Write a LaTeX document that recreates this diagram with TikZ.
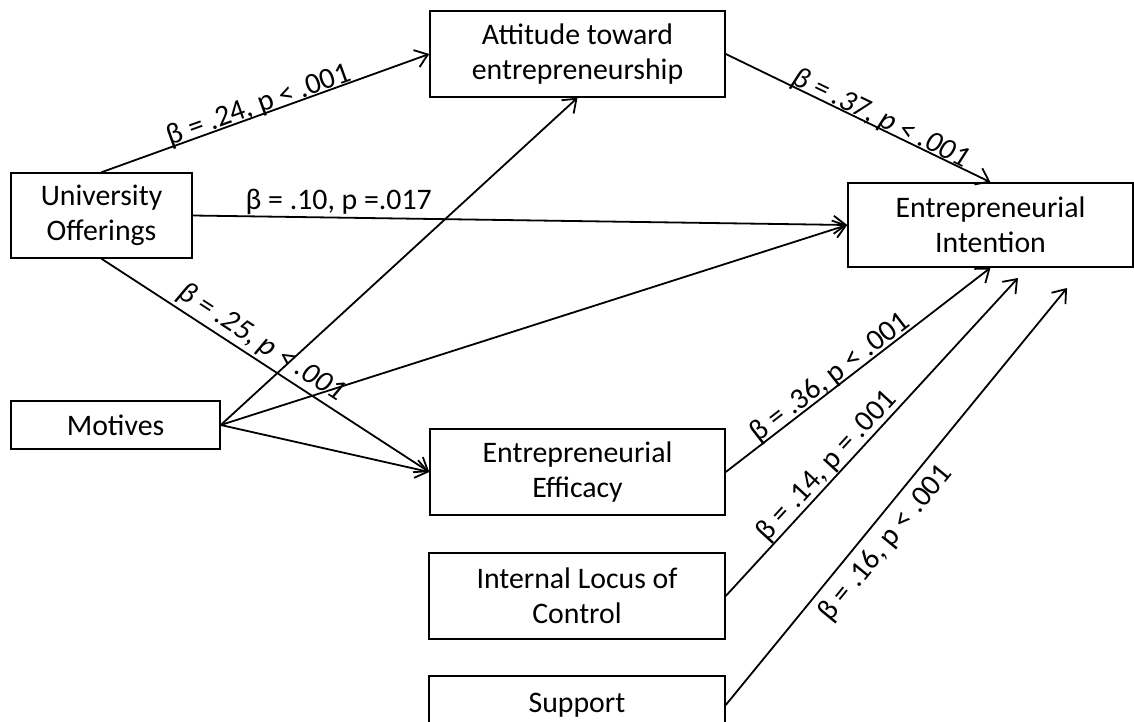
\documentclass[tikz,border=0pt]{standalone}
\usepackage{fontspec}
\setmainfont{Carlito}
\usetikzlibrary{arrows.meta}
\begin{document}
\begin{tikzpicture}[x=0.5pt,y=-0.5pt,
  txt/.style={font=\fontsize{14.9}{17.5}\selectfont},
  box/.style={txt, draw, line width=0.75pt, align=center, inner sep=0pt},
  conn/.style={line width=0.9pt, -{Straight Barb[length=6pt,width=9pt,line width=0.9pt]}},
  lab/.style={txt, inner sep=0pt, sloped, anchor=base},
  labb/.style={txt, inner sep=4pt, sloped, anchor=north}]
\useasboundingbox (0,0) rectangle (1134,722);
\clip (0,0) rectangle (1134,722);
\node[box, minimum width=147.5pt, minimum height=43pt] (att) at (577.5,54) {Attitude toward\\entrepreneurship};
\node[box, minimum width=90.5pt, minimum height=42.5pt] (uo) at (101.5,215.5) {University\\Offerings};
\node[box, minimum width=142.5pt, minimum height=42pt] (ei) at (990.5,225) {Entrepreneurial\\Intention};
\node[box, minimum width=104.5pt, minimum height=24pt] (mot) at (115.5,425) {Motives};
\node[box, minimum width=147.5pt, minimum height=43pt] (eff) at (577.5,472) {Entrepreneurial\\Efficacy};
\node[box, minimum width=148pt, minimum height=43pt] (ilc) at (577,596) {Internal Locus of\\Control};
\node[box, minimum width=148pt, minimum height=29pt] (sup) at (577,705) {Support};
\coordinate (c1) at (1018,278);
\coordinate (c2) at (1067,288);

\draw[conn] (uo.north) -- node[lab, pos=0.49] {\raisebox{0.8pt}{β = .24, p < .001}} (att.west);
\draw[conn] (uo.east) -- node[txt, inner sep=0pt, anchor=base, pos=0.223] {\raisebox{4pt}{β = .10, p =.017}} (ei.west);
\draw[conn] (uo.south) -- node[lab, pos=0.46] {\raisebox{4.5pt}{\itshape β = .25, p < .001}} (eff.west);
\draw[conn] (mot.east) -- (att.south);
\draw[conn] (mot.east) -- (ei.west);
\draw[conn] (mot.east) -- (eff.west);
\draw[conn] (att.east) -- node[lab, pos=0.57] {\raisebox{0.8pt}{\itshape β = .37, p < .001}} (ei.north);
\draw[conn] (eff.east) -- node[lab, pos=0.42] {\raisebox{1.5pt}{β = .36, p < .001}} (ei.south);
\draw[conn] (ilc.east) -- node[lab, pos=0.38] {\raisebox{3pt}{β = .14, p = .001}} (c1);
\draw[conn] (sup.east) -- node[labb, pos=0.42] {β = .16, p < .001} (c2);
\end{tikzpicture}
\end{document}
